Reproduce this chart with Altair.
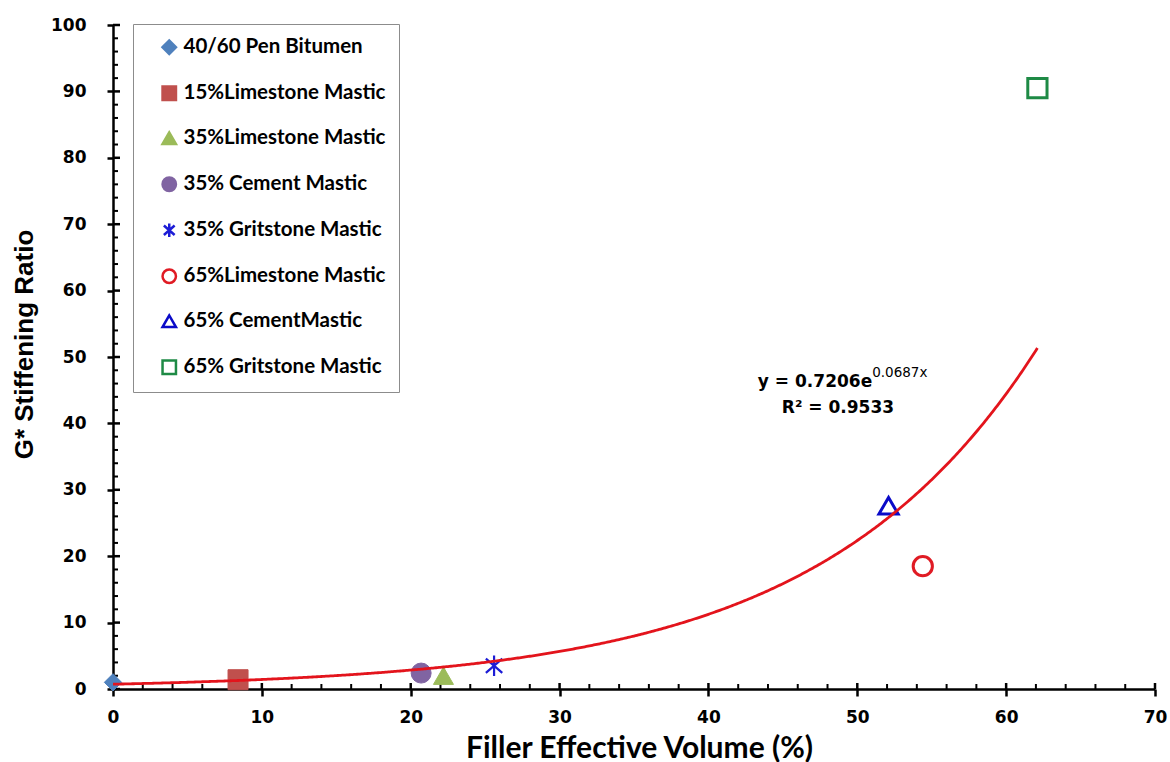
import altair as alt
import pandas as pd

# ---- data ----
series = [
    "40/60 Pen Bitumen",
    "15%Limestone Mastic",
    "35%Limestone Mastic",
    "35% Cement Mastic",
    "35% Gritstone Mastic",
    "65%Limestone Mastic",
    "65% CementMastic",
    "65% Gritstone Mastic",
]
filler_volume = [0.0, 8.4, 22.2, 20.7, 25.6, 54.4, 52.1, 62.1]
stiffening_ratio = [1.0, 1.4, 2.0, 2.4, 3.5, 18.5, 27.6, 90.5]

# exponential trendline printed on the chart
trend_a = 0.7206
trend_b = 0.0687
trend_x_start = 0.0
trend_x_end = 62.1
eq_main = "y = 0.7206e"
eq_sup = "0.0687x"
eq_r2 = "R² = 0.9533"

x_major = [0, 10, 20, 30, 40, 50, 60, 70]
y_major = [0, 10, 20, 30, 40, 50, 60, 70, 80, 90, 100]
x_minor = [v for v in range(2, 70, 2) if v % 10 != 0]
y_minor = [v for v in range(2, 100, 2) if v % 10 != 0]

# ---- styles ----
ASTERISK = "M0,-1L0,1M-0.8,-0.7L0.8,0.7M-0.8,0.7L0.8,-0.7"
shapes = ["diamond", "square", "triangle-up", "circle", ASTERISK, "circle", "triangle-up", "square"]
fill_colors = ["#4f81bd", "#c0504d", "#9bbb59", "#8064a2",
               "transparent", "transparent", "transparent", "transparent"]
stroke_colors = ["#4f81bd", "#c0504d", "#9bbb59", "#8064a2",
                 "#1c1cd6", "#e01b24", "#0a0ac8", "#1e8a45"]

diamond_group = ["40/60 Pen Bitumen"]
filled_group = ["15%Limestone Mastic", "35%Limestone Mastic", "35% Cement Mastic"]
star_group = ["35% Gritstone Mastic"]
open_group = ["65%Limestone Mastic", "65% CementMastic", "65% Gritstone Mastic"]

df = pd.DataFrame({"series": series, "volume": filler_volume, "ratio": stiffening_ratio})

W, H = 1042, 664
xscale = alt.Scale(domain=[0, 70], nice=False, zero=False)
yscale = alt.Scale(domain=[0, 100], nice=False, zero=False)

num_font = "DejaVu Sans"

leg = alt.Legend(
    title=None, orient="none", legendX=20, legendY=-1,
    fillColor="white", strokeColor="#8c8c8c", padding=13,
    symbolOffset=13, symbolSize=180, symbolStrokeWidth=2.5,
    labelFont="Lato", labelFontWeight="bold", labelFontSize=20.5, labelColor="black",
    labelOffset=4, rowPadding=22.0, labelLimit=400,
)

x_axis = alt.Axis(
    title="Filler Effective Volume (%)", values=x_major, format="d",
    titleFont="Lato", titleFontWeight="bold", titleFontSize=30, titleColor="black",
    titleX=526, titleY=59, titleBaseline="middle", titleAnchor="middle",
    labelFont=num_font, labelFontWeight="bold", labelFontSize=17, labelColor="black",
    labelPadding=13, labelFlush=False, tickSize=7, tickWidth=2.5, tickColor="black",
    domainColor="black", domainWidth=2.5, grid=False,
)
y_axis = alt.Axis(
    title="G* Stiffening Ratio", values=y_major, format="d",
    titleFont="Liberation Sans", titleFontWeight="bold", titleFontSize=26, titleColor="black",
    titleX=-89, titleY=319, titleBaseline="middle", titleAngle=270, titleAlign="center",
    labelFont=num_font, labelFontWeight="bold", labelFontSize=17, labelColor="black",
    labelPadding=21, labelFlush=False, tickSize=6, tickWidth=2.5, tickColor="black",
    domainColor="black", domainWidth=2.5, grid=False,
)


def X(field):
    return alt.X(field, scale=xscale, axis=x_axis)


def Y(field):
    return alt.Y(field, scale=yscale, axis=y_axis)


def point_layer(group, size, stroke_width):
    return alt.Chart(df).transform_filter(
        alt.FieldOneOfPredicate(field="series", oneOf=group)
    ).mark_point(opacity=1, size=size, strokeWidth=stroke_width).encode(
        x=X("volume:Q"),
        y=Y("ratio:Q"),
        shape=alt.Shape("series:N", scale=alt.Scale(domain=series, range=shapes), legend=leg),
        fill=alt.Fill("series:N", scale=alt.Scale(domain=series, range=fill_colors), legend=leg),
        stroke=alt.Stroke("series:N", scale=alt.Scale(domain=series, range=stroke_colors), legend=leg),
    )


p_diamond = point_layer(diamond_group, 300, 1)
p_filled = point_layer(filled_group, 400, 1)
p_star = point_layer(star_group, 420, 2.2)
p_open = point_layer(open_group, 370, 3)

trend = alt.Chart(alt.sequence(trend_x_start, trend_x_end + 0.05, 0.1, as_="tx")).transform_calculate(
    ty=f"{trend_a} * exp({trend_b} * datum.tx)"
).mark_line(color="#e3141c", strokeWidth=2.8).encode(
    x=X("tx:Q"),
    y=Y("ty:Q"),
)

# inner ticks (minor and inner half of majors)
xminor_df = pd.DataFrame({"v": x_minor})
yminor_df = pd.DataFrame({"v": y_minor})
xmajor_df = pd.DataFrame({"v": x_major})
ymajor_df = pd.DataFrame({"v": y_major})

x_minor_ticks = alt.Chart(xminor_df).mark_rule(color="black", strokeWidth=2).encode(
    x=X("v:Q"), y=alt.value(H), y2=alt.value(H - 5))
x_major_ticks = alt.Chart(xmajor_df).mark_rule(color="black", strokeWidth=2.5).encode(
    x=X("v:Q"), y=alt.value(H), y2=alt.value(H - 6))
y_minor_ticks = alt.Chart(yminor_df).mark_rule(color="black", strokeWidth=2).encode(
    y=Y("v:Q"), x=alt.value(0), x2=alt.value(5))
y_major_ticks = alt.Chart(ymajor_df).mark_rule(color="black", strokeWidth=2.5).encode(
    y=Y("v:Q"), x=alt.value(0), x2=alt.value(7))

eq_df = pd.DataFrame({
    "x": [51.0, 51.0, 48.7],
    "y": [45.5, 47.0, 41.6],
    "t": [eq_main, eq_sup, eq_r2],
    "part": ["main", "sup", "r2"],
})
eq_main_t = alt.Chart(eq_df).transform_filter("datum.part == 'main'").mark_text(
    font=num_font, fontWeight="bold", fontSize=17, align="right", baseline="alphabetic", color="black"
).encode(x=X("x:Q"), y=Y("y:Q"), text="t:N")
eq_sup_t = alt.Chart(eq_df).transform_filter("datum.part == 'sup'").mark_text(
    font=num_font, fontSize=13.5, align="left", baseline="alphabetic", color="black"
).encode(x=X("x:Q"), y=Y("y:Q"), text="t:N")
eq_r2_t = alt.Chart(eq_df).transform_filter("datum.part == 'r2'").mark_text(
    font=num_font, fontWeight="bold", fontSize=17, align="center", baseline="alphabetic", color="black"
).encode(x=X("x:Q"), y=Y("y:Q"), text="t:N")

chart = alt.layer(
    x_minor_ticks, x_major_ticks, y_minor_ticks, y_major_ticks,
    p_diamond, p_filled, p_star, p_open, trend,
    eq_main_t, eq_sup_t, eq_r2_t,
).properties(
    width=W, height=H,
    autosize=alt.AutoSizeParams(type="none"),
    padding={"left": 113, "top": 25, "right": 15, "bottom": 73},
    background="white",
).configure_view(stroke=None)

chart.save("out.html", embed_options={"renderer": "svg", "actions": False})
